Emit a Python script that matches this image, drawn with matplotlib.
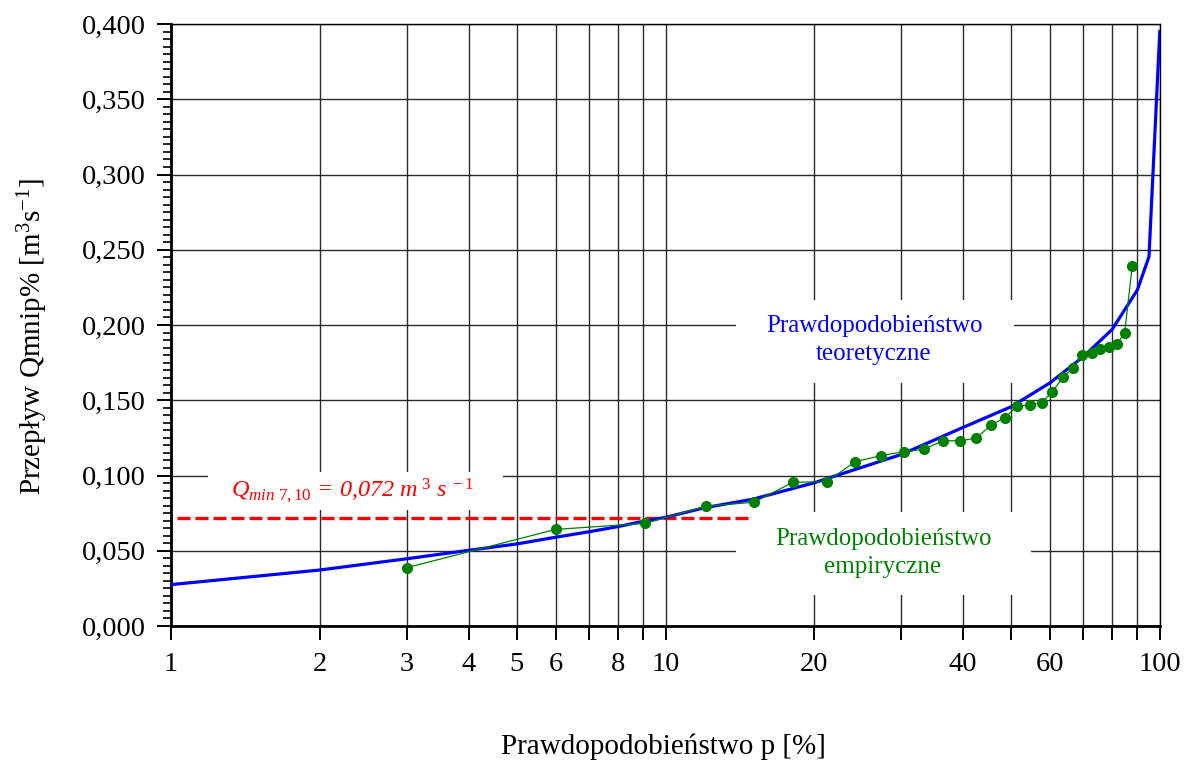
import matplotlib
matplotlib.use("Agg")
import matplotlib.pyplot as plt
from matplotlib.patches import Rectangle
from matplotlib.ticker import FixedLocator, FuncFormatter, MultipleLocator, NullLocator

plt.rcParams["font.family"] = ["Liberation Serif", "DejaVu Serif"]
plt.rcParams["mathtext.fontset"] = "custom"
plt.rcParams["mathtext.rm"] = "Liberation Serif"
plt.rcParams["mathtext.it"] = "Liberation Serif:italic"
plt.rcParams["mathtext.bf"] = "Liberation Serif:bold"

# theoretical (fitted) distribution curve
p_teo = [1, 2, 3, 4, 5, 6, 7, 8, 9, 10, 12, 15, 20, 30, 40, 50, 60, 70, 80, 90, 95, 99.9]
q_teo = [0.0275, 0.0372, 0.0447, 0.0503, 0.0545, 0.0590, 0.0626, 0.0660, 0.0695, 0.0722,
         0.0786, 0.0842, 0.0952, 0.1140, 0.1320, 0.1457, 0.1617, 0.1790, 0.1970, 0.2233,
         0.2454, 0.3950]

# empirical probabilities of observed annual minimum flows
p_emp = [3.0, 6.0, 9.1, 12.1, 15.1, 18.1, 21.2, 24.2, 27.3, 30.3, 33.3, 36.4, 39.4, 42.4,
         45.5, 48.5, 51.5, 54.5, 57.6, 60.6, 63.6, 66.7, 69.7, 72.7, 75.8, 78.8, 81.8,
         84.8, 87.9]
q_emp = [0.0388, 0.0642, 0.0682, 0.0797, 0.0822, 0.0955, 0.0959, 0.1092, 0.1132, 0.1158,
         0.1174, 0.1231, 0.1231, 0.1247, 0.1333, 0.1384, 0.1462, 0.1468, 0.1484, 0.1557,
         0.1652, 0.1716, 0.1801, 0.1812, 0.1838, 0.1856, 0.1874, 0.1945, 0.2394]

# Q min 7,10 threshold
q_min = 0.072
q_min_span = [1.03, 15.0]

x_ticks = [1, 2, 3, 4, 5, 6, 7, 8, 9, 10, 20, 30, 40, 50, 60, 70, 80, 90, 100]
x_labeled = [1, 2, 3, 4, 5, 6, 8, 10, 20, 40, 60, 100]
y_ticks = [0.0, 0.05, 0.10, 0.15, 0.20, 0.25, 0.30, 0.35, 0.40]

W, H = 1187, 762


def fig_box(x0, y0, x1, y1):
    """Pixel box (top-left origin) -> figure-fraction rectangle args."""
    return (x0 / W, 1 - y1 / H), (x1 - x0) / W, (y1 - y0) / H


fig = plt.figure(figsize=(W / 100, H / 100), dpi=100)
ax = fig.add_axes([171 / W, 1 - 626 / H, (1160 - 171) / W, (626 - 24) / H])

ax.set_xscale("log")
ax.set_axisbelow(True)

ax.plot(q_min_span, [q_min, q_min], color="#FF0000", lw=2.4, dashes=(3.9, 1.5), zorder=2.5)
ax.plot(p_teo, q_teo, color="#0000FF", lw=2.3, zorder=3)
ax.plot(p_emp, q_emp, color="#008000", lw=0.9, marker="o", ms=7, zorder=4)

ax.xaxis.set_major_locator(FixedLocator(x_ticks))
ax.xaxis.set_minor_locator(NullLocator())
ax.xaxis.set_major_formatter(FuncFormatter(lambda v, _: f"{v:g}" if v in x_labeled else ""))
ax.yaxis.set_major_locator(FixedLocator(y_ticks))
ax.yaxis.set_minor_locator(MultipleLocator(0.005))
ax.yaxis.set_major_formatter(FuncFormatter(lambda v, _: f"{v:.3f}".replace(".", ",")))

ax.grid(True, which="major", color="#2a2a2a", lw=1.0)
ax.tick_params(axis="both", which="major", direction="out", length=10, width=1.4,
               labelsize=20.5, color="black")
ax.tick_params(axis="x", which="major", pad=9)
ax.tick_params(axis="y", which="major", pad=8)
ax.tick_params(axis="y", which="minor", direction="out", length=6, width=1.2)

for side in ["left", "bottom"]:
    ax.spines[side].set_linewidth(2.0)
for side in ["top", "right"]:
    ax.spines[side].set_linewidth(1.0)

# white backgrounds behind the annotations
for x0, y0, x1, y1 in [(736, 300, 1014, 383), (736, 512, 1031, 595), (208, 472, 503, 510)]:
    xy, w, h = fig_box(x0, y0, x1, y1)
    ax.add_patch(Rectangle(xy, w, h, transform=fig.transFigure, facecolor="white",
                           edgecolor="none", zorder=1))
ax.set_xlim(1, 100)
ax.set_ylim(0, 0.4)

ax.text(874 / W, 1 - 340 / H, "Prawdopodobieństwo\nteoretyczne", transform=fig.transFigure,
        color="#0000FF", fontsize=18, ha="center", va="center", linespacing=1.4, zorder=5)
ax.text(883 / W, 1 - 553 / H, "Prawdopodobieństwo\nempiryczne", transform=fig.transFigure,
        color="#008000", fontsize=18, ha="center", va="center", linespacing=1.4, zorder=5)
ax.text(353 / W, 1 - 491 / H,
        r"$\mathit{Q}_{\mathit{min\ 7,10}}$ = 0,072 m$^{\mathit{\ 3}}$ s$^{\mathit{\ -1}}$",
        transform=fig.transFigure, color="#FF0000", fontsize=17.5, style="italic",
        ha="center", va="center", zorder=5)

ax.set_xlabel("Prawdopodobieństwo p [%]", fontsize=21, va="center")
ax.xaxis.set_label_coords(0.498, -0.201)
ax.set_ylabel(r"Przepływ Qmnip% [m$^{3}$s$^{-1}$]", fontsize=21, va="center")
ax.yaxis.set_label_coords(-0.1395, 0.48)

fig.savefig("out.png", dpi=100)
